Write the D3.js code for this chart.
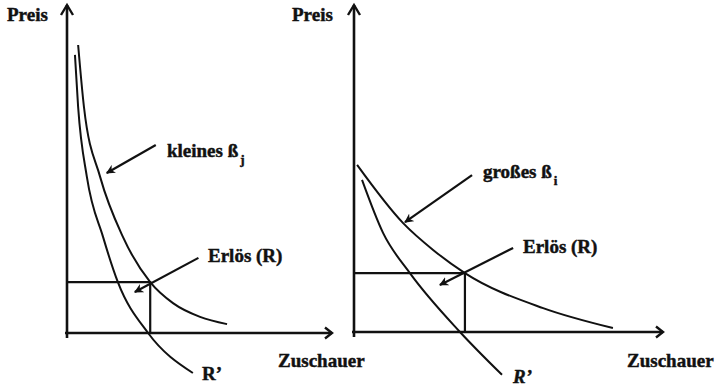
<!DOCTYPE html>
<html><head><meta charset="utf-8">
<script src="https://cdn.jsdelivr.net/npm/d3@7"></script>
<style>
html,body{margin:0;padding:0;background:#fff;}
svg{display:block;}
text{font-family:"Liberation Serif","Times New Roman",serif;font-weight:bold;fill:#111;stroke:#111;stroke-width:0.45px;}
</style></head>
<body><svg id="c" width="715" height="388"></svg>
<script>
// ---- data (chart units: Zuschauer 0..100, Preis 0..100) ----
const axisTitles = ["Preis", "Zuschauer"];
const leftDemand = [[4.2,87.8],[6.4,68.9],[12.5,47.6],[21.1,29.3],[31.4,15.5],[40.0,9.1],[50.2,4.9],[60.4,2.7]];
const leftRprime = [[3.0,84.8],[4.2,68.9],[7.5,47.6],[13.6,29.3],[19.2,15.5],[30.6,0],[47.5,-12.2]];
const leftRevenue = [31.4,15.5];
const rightDemand = [[1.0,51.1],[15.9,33.3],[25.6,25.1],[35.9,18.0],[61.2,7.3],[83.8,1.2]];
const rightRprime = [[2.6,46.5],[9.4,30.3],[18.1,18.0],[34.3,0],[47.9,-13.1]];
const rightRevenue = [35.9,18.0];
const leftLabels = {beta:"kleines ß", sub:"j", erloes:"Erlös (R)", rprime:"R’"};
const rightLabels = {beta:"großes ß", sub:"i", erloes:"Erlös (R)", rprime:"R’"};
// annotation arrows [tail, head] in chart units
const leftArrows = [[[33.5,57.3],[15.0,48.8]], [[49.6,22.9],[25.6,12.5]]];
const rightArrows = [[[38.2,48.0],[16.5,33.6]], [[51.5,25.7],[27.8,14.4]]];

const svg = d3.select("#c");
const defs = svg.append("defs");
defs.append("marker").attr("id","ah").attr("viewBox","0 0 10 10").attr("refX",9).attr("refY",5)
  .attr("markerWidth",4.2).attr("markerHeight",4.2).attr("orient","auto").attr("markerUnits","strokeWidth")
  .append("path").attr("d","M0,0 L10,5 L0,10 L3,5 Z").attr("fill","#111");

function panel(cfg){
  const x = d3.scaleLinear().domain([0,100]).range(cfg.xr);
  const y = d3.scaleLinear().domain([0,100]).range(cfg.yr);
  const g = svg.append("g");
  const ox = x(0), oy = y(0);
  // axes
  g.append("line").attr("x1",ox).attr("y1",oy+5).attr("x2",ox).attr("y2",y(100))
    .attr("stroke","#111").attr("stroke-width",2.6);
  g.append("line").attr("x1",ox-2).attr("y1",oy).attr("x2",x(100)).attr("y2",oy)
    .attr("stroke","#111").attr("stroke-width",2.6);
  g.append("path").attr("d",`M${ox-6},${y(100)+10} L${ox},${y(100)} L${ox+6},${y(100)+10}`)
    .attr("fill","none").attr("stroke","#111").attr("stroke-width",2.4);
  g.append("path").attr("d",`M${x(100)-7},${oy-5.5} L${x(100)},${oy} L${x(100)-7},${oy+5.5}`)
    .attr("fill","none").attr("stroke","#111").attr("stroke-width",2.4);
  // curves
  const line = d3.line().x(d=>x(d[0])).y(d=>y(d[1])).curve(d3.curveMonotoneX);
  g.append("path").attr("d",line(cfg.demand)).attr("fill","none").attr("stroke","#111").attr("stroke-width",2);
  g.append("path").attr("d",line(cfg.rprime)).attr("fill","none").attr("stroke","#111").attr("stroke-width",2);
  // revenue rectangle
  const r = cfg.revenue;
  g.append("path").attr("d",`M${ox},${y(r[1])} L${x(r[0])},${y(r[1])} L${x(r[0])},${oy}`)
    .attr("fill","none").attr("stroke","#111").attr("stroke-width",2.2);
  // annotation arrows
  cfg.arrows.forEach(a=>{
    g.append("line").attr("x1",x(a[0][0])).attr("y1",y(a[0][1])).attr("x2",x(a[1][0])).attr("y2",y(a[1][1]))
      .attr("stroke","#111").attr("stroke-width",2.2).attr("marker-end","url(#ah)");
  });
  // texts
  const fs = 19;
  g.append("text").attr("x",cfg.preis[0]).attr("y",cfg.preis[1]).attr("font-size",fs).text(axisTitles[0]);
  g.append("text").attr("x",cfg.zusch[0]).attr("y",cfg.zusch[1]).attr("font-size",fs).text(axisTitles[1]);
  const b = g.append("text").attr("x",cfg.betaPos[0]).attr("y",cfg.betaPos[1]).attr("font-size",fs);
  b.append("tspan").text(cfg.labels.beta);
  b.append("tspan").attr("dx",2).attr("dy",7).attr("font-size",13).text(cfg.labels.sub);
  g.append("text").attr("x",cfg.erlPos[0]).attr("y",cfg.erlPos[1]).attr("font-size",fs).text(cfg.labels.erloes);
  g.append("text").attr("x",cfg.rpPos[0]).attr("y",cfg.rpPos[1]).attr("font-size",fs)
    .attr("font-style",cfg.rpItalic?"italic":"normal").text(cfg.labels.rprime);
}

panel({xr:[67,332], yr:[333,5], demand:leftDemand, rprime:leftRprime, revenue:leftRevenue,
  arrows:leftArrows, labels:leftLabels, preis:[7,21], zusch:[278,367], betaPos:[167,157],
  erlPos:[208,262], rpPos:[202,380], rpItalic:false});
panel({xr:[354,663], yr:[332,5], demand:rightDemand, rprime:rightRprime, revenue:rightRevenue,
  arrows:rightArrows, labels:rightLabels, preis:[292,21], zusch:[627,367], betaPos:[483,178],
  erlPos:[523,253], rpPos:[513,383], rpItalic:true});
</script></body></html>
